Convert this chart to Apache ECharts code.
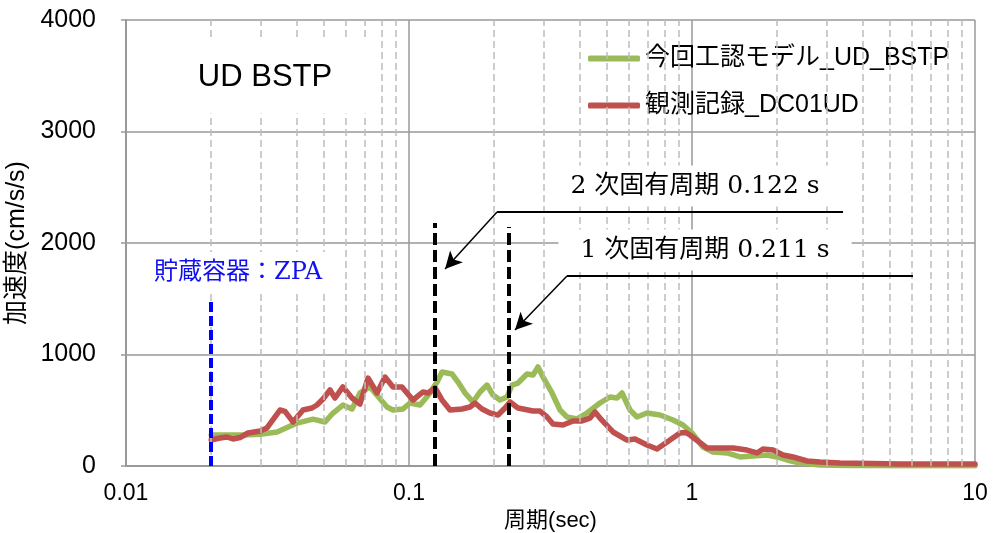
<!DOCTYPE html>
<html><head><meta charset="utf-8">
<script src="https://cdn.jsdelivr.net/npm/echarts@6/dist/echarts.min.js"></script>
<style>html,body{margin:0;padding:0;background:#fff}#c{width:1006px;height:533px}</style>
</head><body><div id="c"></div>
<script>
// ---- data ----
const greenName = '今回工認モデル_UD_BSTP';
const redName = '観測記録_DC01UD';
const greenPeriod = [0.02,0.0259,0.0298,0.0342,0.0402,0.0458,0.0505,0.0539,0.0584,0.0629,0.0671,0.0728,0.0836,0.0878,0.0952,0.1008,0.1094,0.1186,0.1256,0.1308,0.1419,0.149,0.1578,0.1683,0.1782,0.1886,0.1981,0.2097,0.222,0.2312,0.2427,0.2612,0.2743,0.2857,0.2975,0.3201,0.3417,0.3616,0.3923,0.4256,0.473,0.5131,0.5432,0.5658,0.6038,0.6392,0.6934,0.7708,0.8568,0.9294,1.0,1.0936,1.1861,1.3295,1.478,1.643,1.841,1.998,2.166,2.408,2.833,3.53,5.43,10];
const greenAcc = [278,278,285,305,385,420,395,475,547,511,655,709,529,502,511,565,547,655,753,843,825,753,655,574,664,726,637,592,619,726,744,825,816,888,798,655,502,440,422,475,565,619,610,655,502,440,475,457,413,368,296,170,126,117,81,90,99,81,54,27,9,4,3,3];
const redPeriod = [0.02,0.02149,0.02275,0.02388,0.02528,0.02698,0.0298,0.03149,0.035,0.03646,0.03892,0.04221,0.04542,0.0473,0.04967,0.05259,0.05477,0.0584,0.0629,0.0671,0.07163,0.07708,0.08226,0.0878,0.09446,0.09839,0.1033,0.1121,0.1167,0.1236,0.1308,0.1396,0.1539,0.1643,0.1711,0.1811,0.1933,0.2063,0.2184,0.2275,0.2427,0.2743,0.2903,0.3074,0.3227,0.3501,0.3798,0.4086,0.4361,0.4542,0.473,0.5259,0.5893,0.6289,0.6934,0.7522,0.8361,0.907,0.9524,0.9839,1.1298,1.256,1.396,1.5645,1.697,1.782,1.933,2.097,2.275,2.549,2.833,3.334,4.361,5.43,10];
const redAcc = [233,251,260,242,255,296,314,341,502,490,395,502,520,547,601,682,610,709,610,556,789,655,798,709,709,655,592,664,655,700,592,502,511,529,565,511,475,457,520,574,520,493,493,440,377,368,404,404,430,484,430,305,233,242,188,152,233,296,300,278,161,161,161,143,117,152,143,99,81,45,36,27,22,18,18];

const xTickValues = [0.01,0.1,1,10];
const xTickLabels = ['0.01','0.1','1','10'];
const yMin = 0, yMax = 4000, yStep = 1000;
const minorMultipliers = [2,3,4,5,6,7,8,9];
const decades = [0.01,0.1,1];

// reference lines / annotations (data coordinates)
const zpaLine = [[0.02,0],[0.02,1490]];
const modeLines = [[[0.1235,0],[0.1235,2180]],[[0.226,0],[0.226,2143]]];
const leaderLines = [[[0.2047,2278],[3.417,2278]],[[0.3616,1704],[6.038,1704]]];
const arrowLines = [[[0.2047,2278],[0.1341,1767]],[[0.3616,1704],[0.2369,1220]]];
const zpaText = '貯蔵容器：ZPA';
const mode2Text = '2 次固有周期 0.122 s';
const mode1Text = '1 次固有周期 0.211 s';
const panelTitle = 'UD BSTP';

// ---- build ----
const minorGrid = [];
decades.forEach(d => minorMultipliers.forEach(m => minorGrid.push(+(d*m).toPrecision(3))));
const pairs = (xs, ys) => xs.map((x,i) => [x, ys[i]]);
const segs = list => list.map(s => [{coord:s[0]},{coord:s[1]}]);

const FONT = '"Liberation Sans","Noto Sans CJK JP",Arial,sans-serif';
const SERIF = '"DejaVu Serif","Noto Sans CJK JP",serif';

const chart = echarts.init(document.getElementById('c'), null, {renderer:'canvas'});
chart.setOption({
  animation:false,
  backgroundColor:'#fff',
  grid:{left:126,right:31,top:20,bottom:67,containLabel:false,outerBoundsMode:'none'},
  legend:{
    data:[greenName, redName], orient:'vertical', left:588, top:46, padding:0,
    icon:'roundRect', itemWidth:52, itemHeight:6, itemGap:22,
    textStyle:{fontSize:25, color:'#000', fontFamily:FONT, lineHeight:25}
  },
  xAxis:{
    type:'log', logBase:10, min:0.01, max:10, interval:1,
    name:'周期(sec)', nameLocation:'middle', nameGap:37,
    nameTextStyle:{fontSize:22, color:'#000', fontFamily:FONT},
    axisLine:{show:true, lineStyle:{color:'#999', width:2}},
    axisTick:{show:false},
    axisLabel:{margin:16, fontSize:23, color:'#000', fontFamily:FONT,
      formatter:v=>{let best=0;xTickValues.forEach((t,i)=>{if(Math.abs(Math.log10(t)-Math.log10(v))<Math.abs(Math.log10(xTickValues[best])-Math.log10(v)))best=i;});return xTickLabels[best];}},
    splitLine:{show:true, lineStyle:{color:'#999', width:1.5}},
    minorTick:{show:false}, minorSplitLine:{show:false}
  },
  yAxis:{
    type:'value', min:yMin, max:yMax, interval:yStep,
    name:'加速度(cm/s/s)', nameLocation:'middle', nameGap:94,
    nameTextStyle:{fontSize:25, color:'#000', fontFamily:FONT},
    axisLine:{show:true, lineStyle:{color:'#999', width:2}},
    axisTick:{show:true, inside:false, length:5, lineStyle:{color:'#999', width:1.5}},
    axisLabel:{margin:30, fontSize:25, color:'#000', fontFamily:FONT, formatter:v=>String(v)},
    splitLine:{show:true, lineStyle:{color:'#999', width:1.5}}
  },
  series:[
    {name:'minorGrid', type:'line', data:[], z:1, silent:true,
     markLine:{silent:true, symbol:['none','none'], label:{show:false}, animation:false,
       lineStyle:{color:'#bdbdbd', width:1.5, type:[7,4]},
       data:minorGrid.map(v=>({xAxis:v}))}},
    {name:greenName, type:'line', data:pairs(greenPeriod, greenAcc), showSymbol:false, symbol:'none',
     color:'#9BBB59', lineStyle:{width:5.5, color:'#9BBB59', cap:'round', join:'round'}, z:3},
    {name:redName, type:'line', data:pairs(redPeriod, redAcc), showSymbol:false, symbol:'none',
     color:'#C0504D', lineStyle:{width:5.5, color:'#C0504D', cap:'round', join:'round'}, z:4},
    {name:'zpa', type:'line', data:[], z:5, silent:true,
     markLine:{silent:true, symbol:['none','none'], label:{show:false}, animation:false,
       lineStyle:{color:'#0000FF', width:4, type:[10,4]}, data:segs([zpaLine])}},
    {name:'modes', type:'line', data:[], z:5, silent:true,
     markLine:{silent:true, symbol:['none','none'], label:{show:false}, animation:false,
       lineStyle:{color:'#000', width:4, type:[12,5]}, data:segs(modeLines)}},
    {name:'leaders', type:'line', data:[], z:5, silent:true,
     markLine:{silent:true, symbol:['none','none'], label:{show:false}, animation:false,
       lineStyle:{color:'#000', width:2, type:'solid'}, data:segs(leaderLines)}},
    {name:'arrows', type:'line', data:[], z:5, silent:true,
     markLine:{silent:true, symbol:['none','arrow'], symbolSize:[13,17], label:{show:false}, animation:false,
       lineStyle:{color:'#000', width:1.5, type:'solid'}, data:segs(arrowLines)}}
  ],
  graphic:{elements:[
    {type:'text', x:265, y:77, z:50, silent:true,
     style:{text:panelTitle, fill:'#000', font:'31px '+FONT, align:'center', verticalAlign:'middle',
       backgroundColor:'#fff', padding:[21,45]}},
    {type:'text', x:695, y:186, z:50, silent:true,
     style:{text:mode2Text, fill:'#000', font:'25px '+SERIF, align:'center', verticalAlign:'middle',
       backgroundColor:'#fff', padding:[8,22]}},
    {type:'text', x:705, y:250, z:50, silent:true,
     style:{text:mode1Text, fill:'#000', font:'25px '+SERIF, align:'center', verticalAlign:'middle',
       backgroundColor:'#fff', padding:[8,22]}},
    {type:'text', x:238, y:273, z:50, silent:true,
     style:{text:zpaText, fill:'#1010F0', font:'24px '+SERIF, align:'center', verticalAlign:'middle',
       backgroundColor:'#fff', padding:[9,6]}}
  ]}
});
</script>
</body></html>
